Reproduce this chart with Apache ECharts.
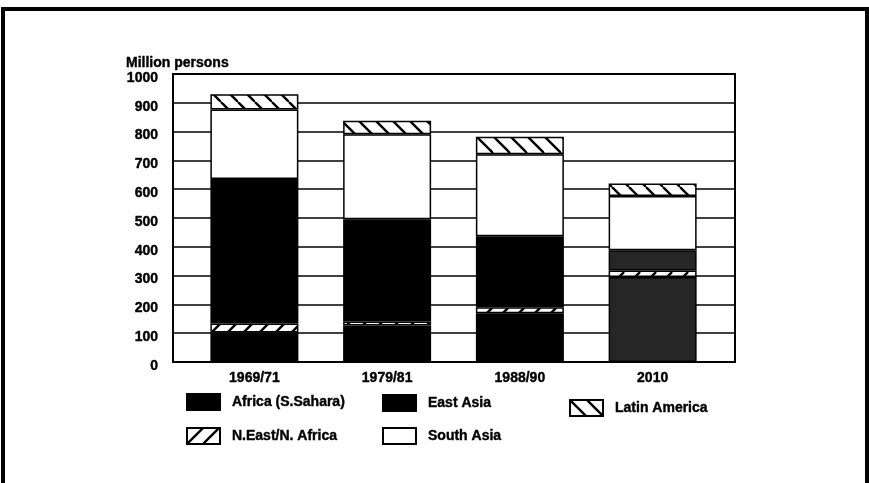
<!DOCTYPE html>
<html>
<head>
<meta charset="utf-8">
<script src="https://cdn.jsdelivr.net/npm/echarts@6/dist/echarts.min.js"></script>
<style>
html,body{margin:0;padding:0;background:#fff;}
#c{width:869px;height:483px;}
</style>
</head>
<body>
<div id="c"></div>
<script>
// ---- data (million persons) ----
const categories = ['1969/71', '1979/81', '1988/90', '2010'];
const africa = [102, 127, 169, 295];
const nearEast = [32, 14, 21, 23];
const eastAsia = [501, 355, 247, 70];
const southAsia = [242, 295, 284, 188];
const latinAmerica = [53, 47, 61, 44];
const yTicks = { min: 0, max: 1000, interval: 100 };

// ---- hatch patterns ----
function hatch(dir, size, lw) {
  const cv = document.createElement('canvas');
  cv.width = size; cv.height = size;
  const ctx = cv.getContext('2d');
  ctx.fillStyle = '#fff';
  ctx.fillRect(0, 0, size, size);
  ctx.strokeStyle = '#000';
  ctx.lineWidth = lw;
  for (const k of [-size, 0, size]) {
    ctx.beginPath();
    if (dir === 'back') { ctx.moveTo(k, 0); ctx.lineTo(k + size, size); }
    else { ctx.moveTo(k + size, 0); ctx.lineTo(k, size); }
    ctx.stroke();
  }
  return { image: cv, repeat: 'repeat' };
}
const fwdPat = hatch('fwd', 16, 2.4);
const backPat = hatch('back', 17, 2.4);

const font = 'Liberation Sans, Arial, sans-serif';
const txt = { fontFamily: font, fontWeight: 'bold', fontSize: 14, color: '#000', textBorderColor: '#000', textBorderWidth: 0.4 };
const border = { borderColor: '#000', borderWidth: 1.5 };
const darkLast = (arr, c) => arr.map((v, i) => i === 3 ? { value: v, itemStyle: { color: c } } : v);

function bar(name, data, color) {
  return {
    name, type: 'bar', stack: 'total', xAxisIndex: 1, yAxisIndex: 1,
    barWidth: 88, data,
    itemStyle: Object.assign({ color }, border),
    emphasis: { disabled: true }
  };
}

const legendBase = {
  icon: 'rect', itemWidth: 33, itemHeight: 16, selectedMode: false, padding: 0,
  textStyle: Object.assign({ padding: [0, 0, 0, 7] }, txt)
};

const chart = echarts.init(document.getElementById('c'), null, { renderer: 'canvas' });
chart.setOption({
  animation: false,
  backgroundColor: '#fff',
  title: {
    text: 'Million persons', left: 126, top: 56, padding: 0,
    textStyle: txt
  },
  grid: [
    { left: 173, top: 74, width: 562, height: 288, show: true, borderColor: '#000', borderWidth: 2, backgroundColor: 'transparent' },
    { left: 188, top: 74, width: 531, height: 288, show: false },
    { left: 173, top: 78, width: 562, height: 288, show: false }
  ],
  xAxis: [
    { gridIndex: 0, type: 'category', data: [], show: false },
    {
      gridIndex: 1, type: 'category', data: categories,
      axisLine: { show: false }, axisTick: { show: false },
      axisLabel: Object.assign({ margin: 9 }, txt)
    },
    { gridIndex: 2, type: 'category', data: [], show: false }
  ],
  yAxis: [
    {
      gridIndex: 0, type: 'value', min: yTicks.min, max: yTicks.max, interval: yTicks.interval,
      axisLine: { show: true, lineStyle: { color: '#000', width: 2 } }, axisTick: { show: false },
      splitLine: { show: true, lineStyle: { color: '#000', width: 1.5 } },
      axisLabel: { show: false }
    },
    { gridIndex: 1, type: 'value', min: yTicks.min, max: yTicks.max, show: false, splitLine: { show: false } },
    {
      gridIndex: 2, type: 'value', min: yTicks.min, max: yTicks.max, interval: yTicks.interval,
      axisLine: { show: false }, axisTick: { show: false }, splitLine: { show: false },
      axisLabel: Object.assign({ margin: 15, formatter: v => String(v) }, txt)
    }
  ],
  legend: [
    Object.assign({ data: ['Africa (S.Sahara)'], left: 186, top: 393 }, legendBase),
    Object.assign({ data: ['N.East/N. Africa'], left: 186, top: 427 }, legendBase),
    Object.assign({ data: ['East Asia'], left: 382, top: 394 }, legendBase),
    Object.assign({ data: ['South Asia'], left: 382, top: 427 }, legendBase),
    Object.assign({ data: ['Latin America'], left: 569, top: 399 }, legendBase)
  ],
  series: [
    bar('Africa (S.Sahara)', darkLast(africa, '#262626'), '#000'),
    bar('N.East/N. Africa', nearEast, fwdPat),
    bar('East Asia', darkLast(eastAsia, '#262626'), '#000'),
    bar('South Asia', southAsia, '#fff'),
    bar('Latin America', latinAmerica, backPat)
  ],
  graphic: [
    { type: 'rect', shape: { x: 3, y: 9, width: 864, height: 520 }, style: { fill: 'none', stroke: '#000', lineWidth: 4 }, silent: true }
  ]
});
</script>
</body>
</html>
